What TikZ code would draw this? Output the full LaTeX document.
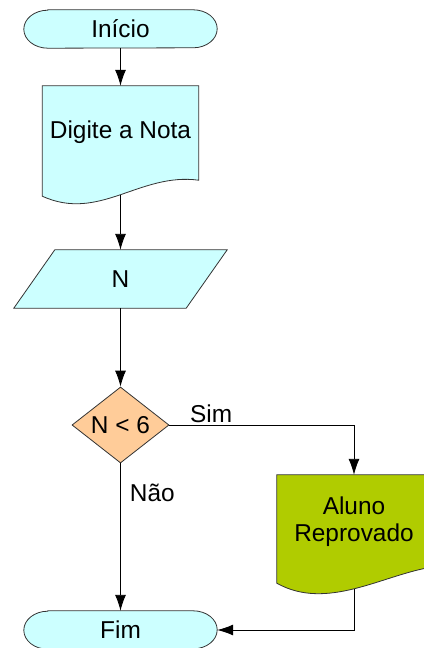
\documentclass[tikz,border=0pt]{standalone}
\usepackage{fontspec}
\setmainfont{Liberation Sans}
\usetikzlibrary{shapes.geometric, arrows.meta, backgrounds}

\definecolor{cyanfill}{RGB}{204,255,255}
\definecolor{orangefill}{RGB}{255,204,153}
\definecolor{greenfill}{RGB}{176,204,0}

\begin{document}
\begin{tikzpicture}[
        x=1bp, y=-1bp,
        font=\fontsize{24.5}{27}\selectfont,
        shapebox/.style={rectangle, inner sep=0pt, align=center},
        decision/.style={diamond, draw=black!80, fill=orangefill, line width=0.8bp, minimum width=97bp, minimum height=76bp, inner sep=0pt, aspect=1.28},
        outline/.style={draw=black!80, line width=0.8bp},
        flow/.style={draw=black, line width=0.9bp, -{Latex[length=16bp, width=11bp]}},
        tag/.style={inner sep=2bp},
    ]
    \useasboundingbox (0,0) rectangle (423,648);

    \node[shapebox, minimum width=193bp, minimum height=38bp] (inicio) at (120.5,29) {Início};
    \node[shapebox, minimum width=156bp, minimum height=92bp] (digite) at (120.5,132) {Digite a Nota};
    \node[shapebox, minimum width=172bp, minimum height=58bp] (nota) at (120.5,279) {N};
    \node[decision] (teste) at (120.5,425) {N < 6};
    \node[shapebox, minimum width=154bp, minimum height=94bp] (reprovado) at (354,522) {Aluno\\Reprovado};
    \node[shapebox, minimum width=193bp, minimum height=38bp] (fim) at (120.5,630) {Fim};

    \coordinate (digite out) at ([yshift=-17bp]digite.south);
    \coordinate (reprovado out) at ([yshift=-20bp]reprovado.south);

    \begin{scope}[on background layer]
        \draw[outline, fill=cyanfill] ([xshift=24bp]inicio.north west) -- ([xshift=-24bp]inicio.north east)
            arc[start angle=90, end angle=-90, x radius=24bp, y radius=19bp]
            -- ([xshift=24bp]inicio.south west)
            arc[start angle=270, end angle=90, x radius=24bp, y radius=19bp] -- cycle;
        \draw[outline, fill=cyanfill] ([yshift=-18bp]digite.south west) -- (digite.north west) -- (digite.north east)
            -- ([yshift=-2bp]digite.south east)
            .. controls +(-59,-8) and +(57,26) .. ([yshift=-18bp]digite.south west) -- cycle;
        \draw[outline, fill=cyanfill] ([xshift=-20.5bp]nota.south west) -- ([xshift=20.5bp]nota.north west)
            -- ([xshift=20.5bp]nota.north east) -- ([xshift=-20.5bp]nota.south east) -- cycle;
        \draw[outline, fill=greenfill] ([yshift=-14bp]reprovado.south west) -- (reprovado.north west) -- (reprovado.north east)
            -- ([yshift=2bp]reprovado.south east)
            .. controls +(-49,8) and +(50,28) .. ([yshift=-14bp]reprovado.south west) -- cycle;
        \draw[outline, fill=cyanfill] ([xshift=24bp]fim.north west) -- ([xshift=-24bp]fim.north east)
            arc[start angle=90, end angle=-90, x radius=24bp, y radius=19bp]
            -- ([xshift=24bp]fim.south west)
            arc[start angle=270, end angle=90, x radius=24bp, y radius=19bp] -- cycle;
    \end{scope}

    \draw[flow] (inicio) -- (digite);
    \draw[flow] (digite out) -- (nota);
    \draw[flow] (nota) -- (teste);
    \draw[flow] (teste) -- node[tag, pos=0.2, right=7bp] (nao) {Não} (fim);
    \draw[flow] (teste.east) -| node[tag, pos=0.113, above] (sim) {Sim} (reprovado.north);
    \draw[flow] (reprovado out) |- (fim.east);
\end{tikzpicture}
\end{document}
